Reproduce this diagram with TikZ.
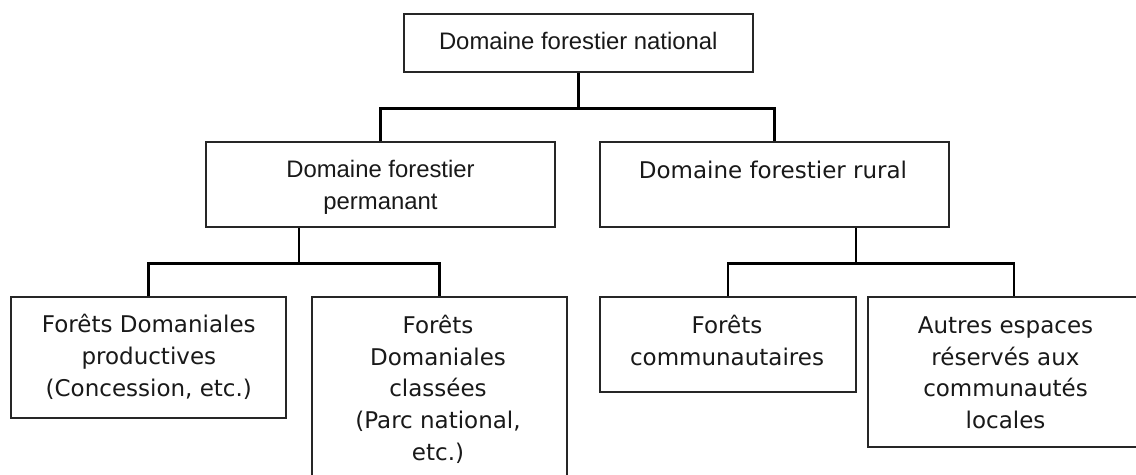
\documentclass[tikz,border=0pt]{standalone}
\usepackage{fontspec}
\newfontfamily\arialf{Liberation Sans}
\newfontfamily\verdf{DejaVu Sans}
\usetikzlibrary{calc}
% centred lines whose baseline is that of the first line
\newcommand\stacklines[1]{\begin{tabular}[t]{@{}c@{}}#1\end{tabular}}
\begin{document}
\begin{tikzpicture}[x=0.75pt,y=-0.75pt,
  box/.style={draw=black!85, line width=0.8pt, inner sep=0pt, rectangle},
  conn/.style={line width=1.6pt, black},
  arialtxt/.style={font=\arialf\fontsize{17.9}{24.2}\selectfont, inner sep=0pt, anchor=base, text=black!90},
  verdtxt/.style={font=\verdf\fontsize{17.25}{23.8}\selectfont, inner sep=0pt, anchor=base, text=black!90}]
\useasboundingbox (0,0) rectangle (1136,475);
\fill[white] (0,0) rectangle (1136,475);
\clip (0,0) rectangle (1136,475);

% boxes
\node[box, minimum width=261.75pt, minimum height=43.5pt]  (nat)    at (578.5,43)    {};
\node[box, minimum width=261.75pt, minimum height=63.75pt] (perm)   at (380.5,184.5) {};
\node[box, minimum width=261.75pt, minimum height=63.75pt] (rural)  at (774.5,184.5) {};
\node[box, minimum width=206.25pt, minimum height=90.75pt] (fdp)    at (148.5,357.5) {};
\node[box, minimum width=191.25pt, minimum height=152.25pt](fdc)    at (439.5,398.5) {};
\node[box, minimum width=192pt,    minimum height=71.25pt] (comm)   at (728,344.5)   {};
\node[box, minimum width=219pt,    minimum height=112.5pt] (autres) at (1014,372)    {};

% texts
\node[arialtxt] (tnat)  at (578.3,49.5)  {Domaine forestier national};
\node[arialtxt] (tperm) at (380.5,177.7) {\stacklines{Domaine forestier\\permanant}};
\node[verdtxt] (trural) at (773,178.5)   {Domaine forestier rural};
\node[verdtxt] (tfdp)   at (148.8,332.7) {\stacklines{Forêts Domaniales\\productives\\(Concession, etc.)}};
\node[verdtxt] (tfdc)   at (438,333.3)   {\stacklines{Forêts\\Domaniales\\classées\\(Parc national,\\etc.)}};
\node[verdtxt] (tcomm)  at (727,333.3)   {\stacklines{Forêts\\communautaires}};
\node[verdtxt] (tautres) at (1005.5,333.3) {\stacklines{Autres espaces\\réservés aux\\communautés\\locales}};

% connectors
\draw[conn] (nat.south) -- ++(0,36) coordinate (b0);
\draw[conn] (perm.north) |- (b0) -| (rural.north);
\draw[conn] ($(perm.south)+(-81.5,0)$) -- ++(0,36) coordinate (b1);
\draw[conn] (fdp.north) |- (b1) -| (fdc.north);
\draw[conn] ($(rural.south)+(81.5,0)$) -- ++(0,36) coordinate (b2);
\draw[conn] (comm.north) |- (b2) -| (autres.north);
\end{tikzpicture}
\end{document}
